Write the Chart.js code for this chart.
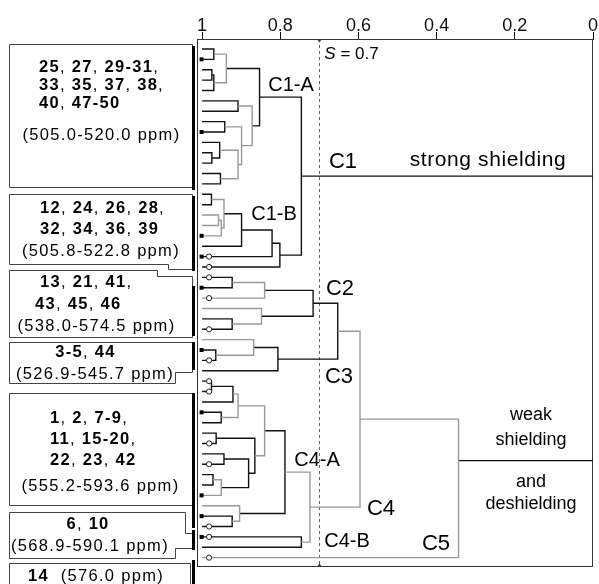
<!DOCTYPE html>
<html>
<head>
<meta charset="utf-8">
<script src="https://cdn.jsdelivr.net/npm/chart.js@4.4.1/dist/chart.umd.min.js"></script>
<style>
  html, body { margin: 0; padding: 0; background: #fff; }
  canvas { display: block; }
</style>
</head>
<body>
<canvas id="c" width="599" height="584"></canvas>
<script>
// Similarity axis (S), drawn from 1 on the left to 0 on the right
const tickValues = [1, 0.8, 0.6, 0.4, 0.2, 0];
const cutS = 0.7;

// Leaves are numbered 0..49 from top to bottom.
// Merge k creates node 50 + k from nodes mergeA[k] and mergeB[k] at similarity mergeS[k].
const leafCount = 50;
const mergeA = [0, 2, 51, 50, 5, 7, 10, 9, 12, 57, 55, 54, 53,
                14, 16, 64, 63, 66, 67, 68, 62,
                22, 71, 26, 25, 72, 29, 28, 77, 75,
                32, 80, 35, 81, 37, 39, 41, 86, 85, 84, 83, 45, 44, 90, 47, 93, 79, 96];
const mergeB = [1, 3, 4, 52, 6, 8, 11, 56, 13, 58, 59, 60, 61,
                15, 17, 18, 65, 19, 20, 21, 69,
                23, 24, 27, 73, 74, 30, 76, 31, 78,
                33, 34, 36, 82, 38, 40, 42, 43, 87, 88, 89, 46, 91, 92, 48, 94, 95, 49];
const mergeS = [0.970, 0.975, 0.970, 0.938, 0.908, 0.942, 0.975, 0.955, 0.953, 0.908, 0.899, 0.872, 0.853,
                0.976, 0.958, 0.951, 0.944, 0.899, 0.821, 0.801, 0.746,
                0.923, 0.840, 0.923, 0.848, 0.716, 0.965, 0.868, 0.806, 0.653,
                0.976, 0.921, 0.951, 0.908, 0.964, 0.944, 0.972, 0.951, 0.881, 0.865, 0.840, 0.923, 0.904, 0.788,
                0.746, 0.724, 0.596, 0.344];
// 1 = black link, 0 = grey link
const mergeTone = [1, 1, 1, 0, 1, 1, 1, 1, 1, 0, 0, 0, 1,
                   1, 0, 0, 0, 1, 1, 1, 1,
                   1, 0, 1, 0, 1, 1, 0, 1, 1,
                   1, 1, 1, 0, 1, 1, 1, 0, 1, 1, 0, 1, 0, 1, 1, 0, 0, 0];

// Group stems running out to S = 0 (C1, and the weak-shielding divider)
const stemMerges = [70, 97];
const stemRows = [null, 39.65];

// Leaf symbols
const filledLeaves = [1, 8, 18, 20, 23, 29, 35, 43, 45, 47];
const openLeaves = [20, 21, 22, 24, 27, 30, 32, 33, 38, 40, 46, 47, 49];

// Compound groups listed in the boxes
const groupLines = [
  [['25, 27, 29-31,', 39, 67, 'left'], ['33, 35, 37, 38,', 39, 85, 'left'], ['40, 47-50', 39, 103.5, 'left'], ['(505.0-520.0 ppm)', 101.5, 135.5, 'center']],
  [['12, 24, 26, 28,', 40, 208, 'left'], ['32, 34, 36, 39', 40, 229, 'left'], ['(505.8-522.8 ppm)', 101, 251, 'center']],
  [['13, 21, 41,', 40, 282.5, 'left'], ['43, 45, 46', 35, 304, 'left'], ['(538.0-574.5 ppm)', 96.5, 326, 'center']],
  [['3-5, 44', 85.5, 352.5, 'center'], ['(526.9-545.7 ppm)', 95, 374, 'center']],
  [['1, 2, 7-9,', 50, 418.5, 'left'], ['11, 15-20,', 50, 439.5, 'left'], ['22, 23, 42', 50, 460.5, 'left'], ['(555.2-593.6 ppm)', 100.5, 486, 'center']],
  [['6, 10', 88, 524, 'center'], ['(568.9-590.1 ppm)', 90, 546, 'center']],
  [['14  (576.0 ppm)', 28, 576, 'left']]
];

const clusterNames = ['C1-A', 'C1-B', 'C1', 'C2', 'C3', 'C4-A', 'C4', 'C4-B', 'C5'];
const regionNames = ['strong shielding', 'weak', 'shielding', 'and', 'deshielding'];

// ---- layout (pixels) ----
const boxShapes = [
  [[9, 44], [192, 44], [192, 187], [9, 187]],
  [[9, 194], [192, 194], [192, 269], [168, 269], [168, 264], [9, 264]],
  [[9, 270], [157, 270], [157, 276], [192, 276], [192, 337], [9, 337]],
  [[9, 342], [192, 342], [192, 372], [175, 372], [175, 383], [9, 383]],
  [[9, 393], [192, 393], [192, 505], [9, 505]],
  [[9, 512], [185, 512], [185, 533], [193, 533], [193, 548], [175, 548], [175, 558], [9, 558]],
  [[9, 563], [190, 563], [190, 600], [9, 600]]
];
const boxBars = [[46, 190], [196, 271], [286, 336], [342, 370], [393, 528], [530, 550], [560, 600]];
const clusterPos = [[291, 85, 20], [274, 214, 20], [343, 162, 22], [340, 289, 22], [339, 376.5, 22],
                    [317, 460, 20], [381, 508.5, 22], [347, 541, 20], [436, 543.5, 22]];
const regionPos = [[488, 160, 21, 0.6], [531, 415, 18, 0], [531, 440, 18, 0], [531, 482, 18, 0], [531, 504, 18, 0]];

const FONT = "'Liberation Sans', Arial, Helvetica, sans-serif";
const BLACK = '#111';
const GREY = '#999';

// node position: {s, y}
const nodeCache = {};
function node(id) {
  if (id < leafCount) return { s: 1, y: id };
  if (nodeCache[id]) return nodeCache[id];
  const k = id - leafCount;
  const a = node(mergeA[k]), b = node(mergeB[k]);
  return (nodeCache[id] = { s: mergeS[k], y: (a.y + b.y) / 2 });
}

const datasets = [];
// grey links first so that black ones sit on top
[0, 1].forEach(tone => {
  mergeA.forEach((_, k) => {
    if (mergeTone[k] !== tone) return;
    const a = node(mergeA[k]), b = node(mergeB[k]), h = mergeS[k];
    datasets.push({
      data: [{ x: a.s, y: a.y }, { x: h, y: a.y }, { x: h, y: b.y }, { x: b.s, y: b.y }],
      borderColor: tone ? BLACK : GREY
    });
  });
});
stemMerges.forEach((id, i) => {
  const n = node(id);
  const row = stemRows[i] === null ? n.y : stemRows[i];
  datasets.push({ data: [{ x: n.s, y: row }, { x: 0, y: row }], borderColor: BLACK });
});
datasets.forEach(d => Object.assign(d, {
  showLine: true, pointRadius: 0, borderWidth: 1.4, fill: false, tension: 0
}));

function drawRich(ctx, str, x, y, align, size, spacing) {
  const parts = [];
  const re = /(\([^)]*\))|([0-9][0-9\-]*)|([^0-9(]+)/g;
  let m;
  while ((m = re.exec(str))) {
    if (m[1]) parts.push([m[1], false]);
    else if (m[2]) parts.push([m[2], true]);
    else parts.push([m[3], false]);
  }
  ctx.letterSpacing = spacing + 'px';
  const widths = parts.map(([t, b]) => {
    ctx.font = (b ? 'bold ' : '') + size + 'px ' + FONT;
    return ctx.measureText(t).width;
  });
  const total = widths.reduce((p, w) => p + w, 0);
  let cx = align === 'center' ? x - total / 2 : x;
  ctx.textAlign = 'left';
  ctx.textBaseline = 'middle';
  parts.forEach(([t, b], i) => {
    ctx.font = (b ? 'bold ' : '') + size + 'px ' + FONT;
    ctx.fillText(t, cx, y);
    cx += widths[i];
  });
  ctx.letterSpacing = '0px';
}

const decor = {
  id: 'decor',
  beforeDatasetsDraw(chart) {
    const { ctx, chartArea: a, scales: { x } } = chart;
    ctx.save();
    ctx.strokeStyle = '#333';
    ctx.lineWidth = 1;
    ctx.strokeRect(a.left + 0.5, a.top + 0.5, a.right - a.left - 1, a.bottom - a.top - 1);
    const xs = Math.round(x.getPixelForValue(cutS)) + 0.5;
    ctx.strokeStyle = '#666';
    ctx.setLineDash([3, 3]);
    ctx.beginPath();
    ctx.moveTo(xs, a.top);
    ctx.lineTo(xs, a.bottom);
    ctx.stroke();
    ctx.setLineDash([]);
    ctx.fillStyle = '#333';
    ctx.beginPath();
    ctx.moveTo(xs - 2.5, a.top); ctx.lineTo(xs + 2.5, a.top); ctx.lineTo(xs, a.top + 3.5);
    ctx.closePath(); ctx.fill();
    ctx.beginPath();
    ctx.moveTo(xs - 2.5, a.bottom); ctx.lineTo(xs + 2.5, a.bottom); ctx.lineTo(xs, a.bottom - 3.5);
    ctx.closePath(); ctx.fill();
    ctx.restore();
  },
  afterDatasetsDraw(chart) {
    const { ctx, scales: { x, y } } = chart;
    ctx.save();
    const x1 = x.getPixelForValue(1);
    filledLeaves.forEach(i => {
      const py = y.getPixelForValue(i);
      ctx.fillStyle = '#000';
      ctx.fillRect(x1 - 2.5, py - 2, 4, 4);
    });
    openLeaves.forEach(i => {
      const py = y.getPixelForValue(i);
      ctx.beginPath();
      ctx.arc(x1 + 7, py, 2.6, 0, Math.PI * 2);
      ctx.fillStyle = '#fff';
      ctx.fill();
      ctx.strokeStyle = '#222';
      ctx.lineWidth = 1;
      ctx.stroke();
    });
    ctx.restore();
  },
  afterDraw(chart) {
    const { ctx, chartArea: a, scales: { x } } = chart;
    ctx.save();
    // compound boxes
    boxShapes.forEach((pts, i) => {
      ctx.beginPath();
      pts.forEach(([px, py], j) => j ? ctx.lineTo(px + 0.5, py + 0.5) : ctx.moveTo(px + 0.5, py + 0.5));
      ctx.closePath();
      ctx.fillStyle = '#fff';
      ctx.fill();
      ctx.strokeStyle = '#444';
      ctx.lineWidth = 1;
      ctx.stroke();
      const [t, b] = boxBars[i];
      ctx.fillStyle = '#000';
      ctx.fillRect(192, t, 3, b - t);
    });
    ctx.fillStyle = '#000';
    groupLines.forEach(lines => lines.forEach(([t, lx, ly, al]) => drawRich(ctx, t, lx, ly, al, 16.5, 1.3)));

    // cluster names
    ctx.textAlign = 'center';
    ctx.textBaseline = 'middle';
    clusterNames.forEach((t, i) => {
      const [cx, cy, sz] = clusterPos[i];
      ctx.font = sz + 'px ' + FONT;
      ctx.fillText(t, cx, cy);
    });
    regionNames.forEach((t, i) => {
      const [rx, ry, sz, sp] = regionPos[i];
      ctx.font = sz + 'px ' + FONT;
      ctx.letterSpacing = sp + 'px';
      ctx.fillText(t, rx, ry);
    });
    ctx.letterSpacing = '0px';

    // cut label  S = 0.7
    const xs = x.getPixelForValue(cutS);
    ctx.textAlign = 'left';
    ctx.font = 'italic 17px ' + FONT;
    ctx.fillText('S', xs + 5, a.top + 15);
    const w = ctx.measureText('S').width;
    ctx.font = '17px ' + FONT;
    ctx.fillText(' = ' + cutS, xs + 5 + w, a.top + 15);
    ctx.restore();
  }
};

new Chart(document.getElementById('c'), {
  type: 'scatter',
  data: { datasets },
  options: {
    responsive: false,
    animation: false,
    devicePixelRatio: 1,
    events: [],
    layout: { padding: { left: 197, right: 6, top: 0, bottom: 17 } },
    plugins: { legend: { display: false }, tooltip: { enabled: false } },
    scales: {
      x: {
        type: 'linear',
        position: 'top',
        reverse: true,
        min: 0,
        max: 1.013,
        afterBuildTicks: s => { s.ticks = tickValues.map(v => ({ value: v })); },
        afterFit: s => { s.height = 39; },
        ticks: {
          color: '#111',
          padding: -3,
          maxRotation: 0,
          font: { family: FONT, size: 18, lineHeight: 1 },
          callback: v => String(v)
        },
        grid: { drawOnChartArea: false, drawTicks: true, tickLength: 7, color: '#000' },
        border: { display: true, color: '#000', width: 1 }
      },
      y: {
        type: 'linear',
        display: false,
        reverse: true,
        min: -0.96,
        max: 49.9
      }
    }
  },
  plugins: [decor]
});
</script>
</body>
</html>
